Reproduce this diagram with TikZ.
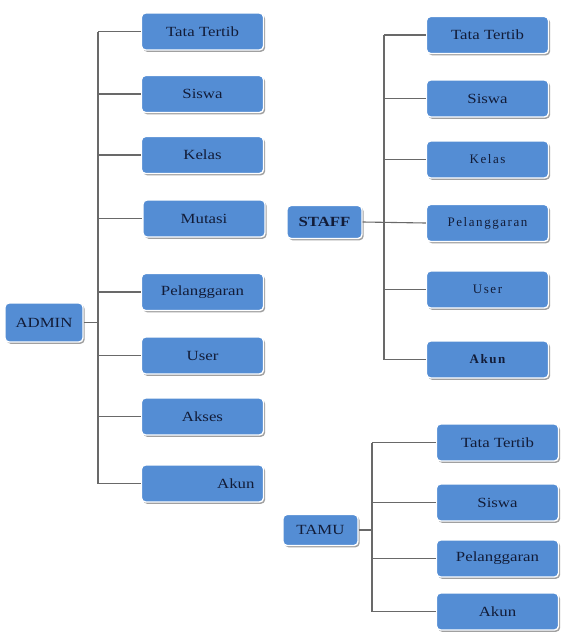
\documentclass[tikz,border=0pt]{standalone}
\usepackage{fontspec}
\setmainfont[FakeStretch=1.2]{Liberation Serif}
\newfontfamily\spacedfont[LetterSpace=12]{Liberation Serif}
\usetikzlibrary{shadows}
\definecolor{boxblue}{RGB}{84,141,212}
\definecolor{txtnavy}{RGB}{18,28,56}
\definecolor{linegray}{RGB}{105,105,105}
\definecolor{shadowgray}{RGB}{150,150,150}
\tikzset{
  menubox/.style={draw=white, line width=1.4pt, fill=boxblue, rounded corners=4pt,
    minimum width=122pt, minimum height=37pt, inner sep=2pt,
    text=txtnavy, font=\fontsize{14}{16}\selectfont,
    drop shadow={shadow xshift=1.6pt, shadow yshift=-1.8pt, fill=shadowgray, opacity=0.9}},
  rolebox/.style={menubox, minimum width=76pt, minimum height=34pt},
  branch/.style={draw=linegray, line width=1.1pt}
}
\begin{document}
\begin{tikzpicture}[x=1pt,y=-1pt]
\useasboundingbox (0,0) rectangle (560,635);
% ADMIN
\node[menubox] (a1) at (202.5,31.5) {Tata Tertib};
\node[menubox] (a2) at (202.5,94) {Siswa};
\node[menubox] (a3) at (202.5,155) {Kelas};
\node[menubox] (a4) at (204,218.5) {Mutasi};
\node[menubox] (a5) at (202.5,292) {Pelanggaran};
\node[menubox] (a6) at (202.5,355.5) {User};
\node[menubox] (a7) at (202.5,416.5) {Akses};
\node[menubox] (a8) at (202.5,483.5) {\makebox[104pt][r]{Akun}};
\node[rolebox, minimum width=78pt, minimum height=39pt] (admin) at (44,322.5) {ADMIN};
\coordinate (atop) at (98,31.5);
\coordinate (abot) at (98,483.5);
\draw[branch] (atop) -- (abot);
\draw[branch] (admin.east) -- (admin.east -| atop);
\foreach \n in {a1,a2,a3,a4,a5,a6,a7,a8} \draw[branch] (\n.west -| atop) -- (\n.west);
% STAFF
\node[menubox] (s1) at (487.5,35) {Tata Tertib};
\node[menubox] (s2) at (487.5,98.5) {Siswa};
\node[menubox] (s3) at (487.5,159.5) {\spacedfont\fontsize{13}{15}\selectfont Kelas};
\node[menubox] (s4) at (487.5,223) {\spacedfont\fontsize{13}{15}\selectfont Pelanggaran};
\node[menubox] (s5) at (487.5,289.5) {\spacedfont\fontsize{13}{15}\selectfont User};
\node[menubox] (s6) at (487.5,359.5) {\spacedfont\fontsize{13}{15}\selectfont\bfseries Akun};
\node[rolebox, minimum width=75pt, minimum height=33pt] (staff) at (324.5,222) {\bfseries STAFF};
\coordinate (stop) at (384,35);
\coordinate (sbot) at (384,359.5);
\draw[branch] (stop) -- (sbot);
\draw[branch] (staff.east) -- (s4.west);
\foreach \n in {s1,s2,s3,s5,s6} \draw[branch] (\n.west -| stop) -- (\n.west);
% TAMU
\node[menubox] (t1) at (497.5,442.5) {Tata Tertib};
\node[menubox] (t2) at (497.5,502.5) {Siswa};
\node[menubox] (t3) at (497.5,558.5) {Pelanggaran};
\node[menubox] (t4) at (497.5,611.5) {Akun};
\node[rolebox, minimum width=75pt, minimum height=31pt] (tamu) at (320.5,530) {TAMU};
\coordinate (ttop) at (372,442.5);
\coordinate (tbot) at (372,611.5);
\draw[branch] (ttop) -- (tbot);
\draw[branch] (tamu.east) -- (tamu.east -| ttop);
\foreach \n in {t1,t2,t3,t4} \draw[branch] (\n.west -| ttop) -- (\n.west);
\end{tikzpicture}
\end{document}
